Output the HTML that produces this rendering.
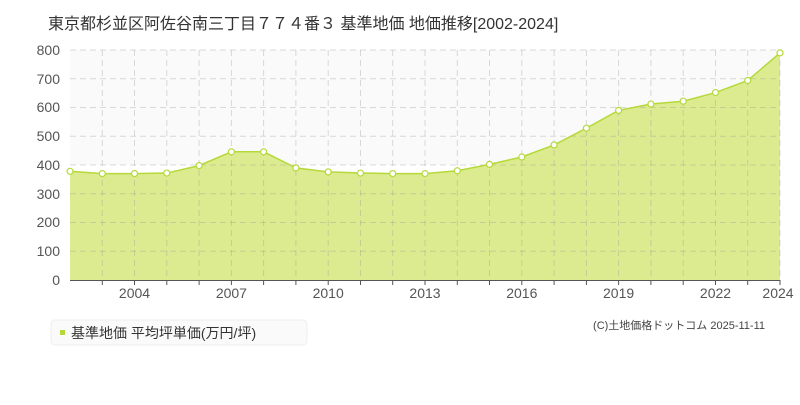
<!DOCTYPE html>
<html><head><meta charset="utf-8"><style>
body{margin:0;background:#fff;width:800px;height:400px;overflow:hidden;font-family:"Liberation Sans","Noto Sans CJK JP",sans-serif}
</style></head><body>
<svg width="800" height="400" xmlns="http://www.w3.org/2000/svg" font-family="Liberation Sans, Noto Sans CJK JP, sans-serif">
<text x="48" y="29" font-size="16" fill="#333">東京都杉並区阿佐谷南三丁目７７４番３ 基準地価 地価推移[2002-2024]</text>
<rect x="70" y="50" width="710" height="115" fill="#fafafa"/>
<path d="M70,171.3 L102.3,173.6 L134.5,173.6 L166.8,173.05 L199.1,165.6 L231.4,151.8 L263.6,151.8 L295.9,167.9 L328.2,171.9 L360.5,173.05 L392.7,173.6 L425,173.6 L457.3,170.75 L489.5,164.4 L521.8,157 L554.1,144.9 L586.4,128.2 L618.6,110.4 L650.9,104.05 L683.2,101.2 L715.5,92.55 L747.7,80.5 L780,52.9 L780,280 L70,280 Z" fill="#dceb8f"/>
<g stroke="#999" stroke-opacity="0.35" stroke-dasharray="6,4" stroke-width="1">
<line x1="70" y1="50" x2="780" y2="50"/><line x1="70" y1="78.75" x2="780" y2="78.75"/><line x1="70" y1="107.5" x2="780" y2="107.5"/><line x1="70" y1="136.25" x2="780" y2="136.25"/><line x1="70" y1="165" x2="780" y2="165"/><line x1="70" y1="193.75" x2="780" y2="193.75"/><line x1="70" y1="222.5" x2="780" y2="222.5"/><line x1="70" y1="251.25" x2="780" y2="251.25"/>
<line x1="102.3" y1="50" x2="102.3" y2="280"/><line x1="134.5" y1="50" x2="134.5" y2="280"/><line x1="166.8" y1="50" x2="166.8" y2="280"/><line x1="199.1" y1="50" x2="199.1" y2="280"/><line x1="231.4" y1="50" x2="231.4" y2="280"/><line x1="263.6" y1="50" x2="263.6" y2="280"/><line x1="295.9" y1="50" x2="295.9" y2="280"/><line x1="328.2" y1="50" x2="328.2" y2="280"/><line x1="360.5" y1="50" x2="360.5" y2="280"/><line x1="392.7" y1="50" x2="392.7" y2="280"/><line x1="425" y1="50" x2="425" y2="280"/><line x1="457.3" y1="50" x2="457.3" y2="280"/><line x1="489.5" y1="50" x2="489.5" y2="280"/><line x1="521.8" y1="50" x2="521.8" y2="280"/><line x1="554.1" y1="50" x2="554.1" y2="280"/><line x1="586.4" y1="50" x2="586.4" y2="280"/><line x1="618.6" y1="50" x2="618.6" y2="280"/><line x1="650.9" y1="50" x2="650.9" y2="280"/><line x1="683.2" y1="50" x2="683.2" y2="280"/><line x1="715.5" y1="50" x2="715.5" y2="280"/><line x1="747.7" y1="50" x2="747.7" y2="280"/><line x1="780" y1="50" x2="780" y2="280"/>
</g>
<path d="M70,171.3 L102.3,173.6 L134.5,173.6 L166.8,173.05 L199.1,165.6 L231.4,151.8 L263.6,151.8 L295.9,167.9 L328.2,171.9 L360.5,173.05 L392.7,173.6 L425,173.6 L457.3,170.75 L489.5,164.4 L521.8,157 L554.1,144.9 L586.4,128.2 L618.6,110.4 L650.9,104.05 L683.2,101.2 L715.5,92.55 L747.7,80.5 L780,52.9" fill="none" stroke="#b5d93a" stroke-width="1.5"/>
<g fill="#fff" stroke="#b5d93a" stroke-width="1.2">
<circle cx="70" cy="171.3" r="3"/><circle cx="102.3" cy="173.6" r="3"/><circle cx="134.5" cy="173.6" r="3"/><circle cx="166.8" cy="173.05" r="3"/><circle cx="199.1" cy="165.6" r="3"/><circle cx="231.4" cy="151.8" r="3"/><circle cx="263.6" cy="151.8" r="3"/><circle cx="295.9" cy="167.9" r="3"/><circle cx="328.2" cy="171.9" r="3"/><circle cx="360.5" cy="173.05" r="3"/><circle cx="392.7" cy="173.6" r="3"/><circle cx="425" cy="173.6" r="3"/><circle cx="457.3" cy="170.75" r="3"/><circle cx="489.5" cy="164.4" r="3"/><circle cx="521.8" cy="157" r="3"/><circle cx="554.1" cy="144.9" r="3"/><circle cx="586.4" cy="128.2" r="3"/><circle cx="618.6" cy="110.4" r="3"/><circle cx="650.9" cy="104.05" r="3"/><circle cx="683.2" cy="101.2" r="3"/><circle cx="715.5" cy="92.55" r="3"/><circle cx="747.7" cy="80.5" r="3"/><circle cx="780" cy="52.9" r="3"/>
</g>
<line x1="70" y1="280.5" x2="780" y2="280.5" stroke="#555" stroke-width="1"/>
<g stroke="#555" stroke-width="1">
<line x1="102.3" y1="280" x2="102.3" y2="285"/><line x1="134.5" y1="280" x2="134.5" y2="285"/><line x1="166.8" y1="280" x2="166.8" y2="285"/><line x1="199.1" y1="280" x2="199.1" y2="285"/><line x1="231.4" y1="280" x2="231.4" y2="285"/><line x1="263.6" y1="280" x2="263.6" y2="285"/><line x1="295.9" y1="280" x2="295.9" y2="285"/><line x1="328.2" y1="280" x2="328.2" y2="285"/><line x1="360.5" y1="280" x2="360.5" y2="285"/><line x1="392.7" y1="280" x2="392.7" y2="285"/><line x1="425" y1="280" x2="425" y2="285"/><line x1="457.3" y1="280" x2="457.3" y2="285"/><line x1="489.5" y1="280" x2="489.5" y2="285"/><line x1="521.8" y1="280" x2="521.8" y2="285"/><line x1="554.1" y1="280" x2="554.1" y2="285"/><line x1="586.4" y1="280" x2="586.4" y2="285"/><line x1="618.6" y1="280" x2="618.6" y2="285"/><line x1="650.9" y1="280" x2="650.9" y2="285"/><line x1="683.2" y1="280" x2="683.2" y2="285"/><line x1="715.5" y1="280" x2="715.5" y2="285"/><line x1="747.7" y1="280" x2="747.7" y2="285"/><line x1="780" y1="280" x2="780" y2="285"/>
</g>
<g font-size="14" fill="#555" text-anchor="end">
<text x="60" y="55">800</text><text x="60" y="84">700</text><text x="60" y="112">600</text><text x="60" y="141">500</text><text x="60" y="170">400</text><text x="60" y="199">300</text><text x="60" y="227">200</text><text x="60" y="256">100</text><text x="60" y="285">0</text>
</g>
<g font-size="14" fill="#555" text-anchor="middle">
<text x="134.5" y="298">2004</text><text x="231.4" y="298">2007</text><text x="328.2" y="298">2010</text><text x="425" y="298">2013</text><text x="521.8" y="298">2016</text><text x="618.6" y="298">2019</text><text x="715.5" y="298">2022</text><text x="778" y="298">2024</text>
</g>
<rect x="51" y="320" width="256" height="25" rx="4" fill="#fafafa" stroke="#eee"/>
<rect x="60" y="330" width="5" height="5" fill="#b5d93a"/>
<text x="71" y="338" font-size="14" fill="#333">基準地価 平均坪単価(万円/坪)</text>
<text x="765" y="329" font-size="11" fill="#444" text-anchor="end">(C)土地価格ドットコム 2025-11-11</text>
</svg>
</body></html>
